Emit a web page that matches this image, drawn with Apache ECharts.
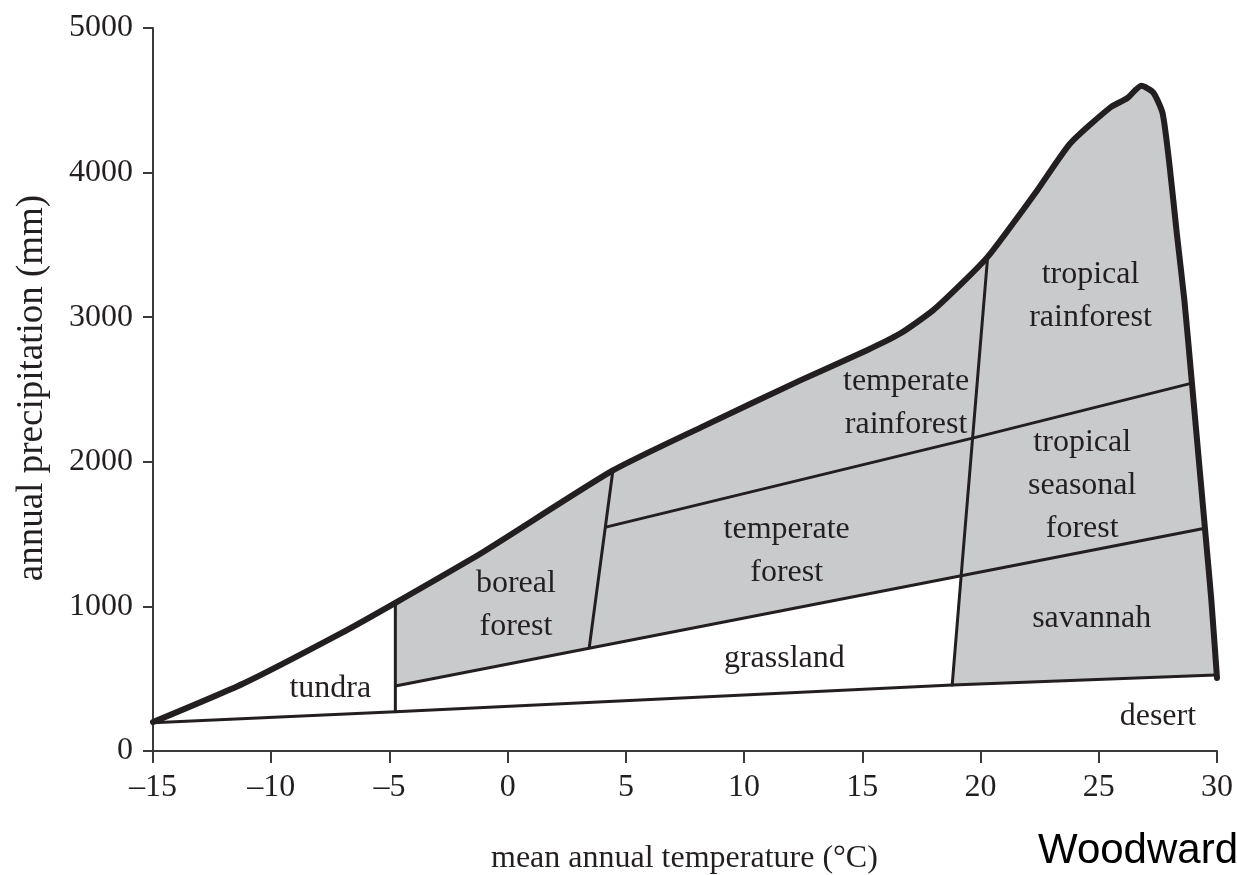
<!DOCTYPE html>
<html>
<head>
<meta charset="utf-8">
<script src="https://cdn.jsdelivr.net/npm/echarts@6/dist/echarts.min.js"></script>
<style>
html,body{margin:0;padding:0;background:#fff;}
#chart{width:1237px;height:875px;}
</style>
</head>
<body>
<div id="chart"></div>
<script>
// ---- data (temperature °C, precipitation mm) ----
const xTicks = [-15, -10, -5, 0, 5, 10, 15, 20, 25, 30];
const yTicks = [0, 1000, 2000, 3000, 4000, 5000];

// thick outer boundary
const upperCurve = [
  [-15, 200], [-11.2, 465], [-7.1, 810], [-4.75, 1025], [-1, 1380],
  [4.45, 1940], [8.2, 2240], [12.4, 2565], [15.2, 2772], [16.6, 2887],
  [18.0, 3049], [19.4, 3265], [20.3, 3417], [21.2, 3610], [22.4, 3878],
  [23.8, 4203], [25.5, 4452], [26.2, 4514], [26.8, 4600], [27.3, 4555],
  [27.7, 4410], [28.0, 4040], [28.3, 3580], [28.62, 3118], [28.94, 2544],
  [29.13, 2198], [29.49, 1541], [29.76, 1044], [30.0, 505]
];
// thin boundaries
const desertLine = [[-15, 195], [-4.75, 272], [18.8, 456], [29.94, 525]];
const tundraLine = [[-4.75, 272], [-4.75, 1025]];
const grassTopLine = [[-4.75, 450], [19.18, 1212], [29.49, 1541]];
const rainforestLine = [[4.15, 1548], [19.66, 2164], [28.94, 2544]];
const borealLine = [[3.45, 715], [4.45, 1940]];
const tropicalLine = [[20.3, 3417], [19.18, 1212], [18.8, 456]];

// region labels
const labelNames = ['tundra', 'boreal\nforest', 'temperate\nforest', 'temperate\nrainforest',
  'grassland', 'tropical\nrainforest', 'tropical\nseasonal\nforest', 'savannah', 'desert'];
const labelT = [-7.5, 0.35, 11.8, 16.85, 11.7, 24.65, 24.3, 24.7, 27.5];
const labelP = [435, 1009, 1382, 2406, 636, 3145, 1832, 919, 240];

// ---- build shaded (forest + savannah) polygon from the boundaries ----
const tundraT = tundraLine[0][0];
const grayPoly = [].concat(
  [grassTopLine[0]],
  [tundraLine[1]],
  upperCurve.filter(p => p[0] > tundraT + 0.01),
  [desertLine[desertLine.length - 1]],
  [tropicalLine[2]],
  [tropicalLine[1]]
);

const INK = '#231f20';
const AXIS = '#3a3a3a';
const SERIF = '"Liberation Serif", "Times New Roman", serif';

function thin(data, z) {
  return {
    type: 'line', data: data, symbol: 'none', silent: true, z: z || 3,
    lineStyle: { color: INK, width: 3, cap: 'round', join: 'round' }
  };
}

const chart = echarts.init(document.getElementById('chart'), null, { renderer: 'canvas' });
chart.setOption({
  animation: false,
  backgroundColor: '#fff',
  grid: { left: 153, right: 20, top: 28, bottom: 124, outerBoundsMode: 'none', containLabel: false },
  xAxis: {
    type: 'value', min: xTicks[0], max: xTicks[xTicks.length - 1], interval: 5,
    axisLine: { show: true, onZero: false, lineStyle: { color: AXIS, width: 2 } },
    axisTick: { show: true, inside: false, length: 12, lineStyle: { color: AXIS, width: 2 } },
    splitLine: { show: false },
    axisLabel: {
      margin: 21, color: INK, fontFamily: SERIF, fontSize: 32,
      formatter: v => String(v).replace('-', '\u2013')
    }
  },
  yAxis: {
    type: 'value', min: yTicks[0], max: yTicks[yTicks.length - 1], interval: 1000,
    axisLine: { show: true, onZero: false, lineStyle: { color: AXIS, width: 2 } },
    axisTick: { show: true, inside: false, length: 10, lineStyle: { color: AXIS, width: 2 } },
    splitLine: { show: false },
    axisLabel: { margin: 20, color: INK, fontFamily: SERIF, fontSize: 32, formatter: v => String(v) }
  },
  graphic: [
    {
      type: 'text', left: 491, top: 843, silent: true,
      style: { text: 'mean annual temperature (\u00b0C)', fontFamily: SERIF, fontSize: 32, fill: INK }
    },
    {
      type: 'text', x: 32, y: 388, rotation: Math.PI / 2, silent: true,
      style: { text: 'annual precipitation (mm)', fontFamily: SERIF, fontSize: 37, fill: INK,
        align: 'center', verticalAlign: 'middle' }
    },
    {
      type: 'text', left: 1038, top: 830, silent: true,
      style: { text: 'Woodward', fontFamily: '"Liberation Sans", Arial, sans-serif', fontSize: 42, fill: '#000' }
    }
  ],
  series: [
    {
      type: 'custom', silent: true, z: 1,
      data: grayPoly,
      renderItem: function (params, api) {
        if (params.dataIndex !== 0) return null;
        return {
          type: 'polygon',
          shape: { points: grayPoly.map(p => api.coord(p)) },
          style: { fill: '#c9cacc', stroke: null }
        };
      }
    },
    thin(desertLine), thin(tundraLine), thin(grassTopLine), thin(rainforestLine),
    thin(borealLine), thin(tropicalLine),
    {
      type: 'line', data: upperCurve, symbol: 'none', silent: true, z: 4,
      smooth: 0.2,
      lineStyle: { color: INK, width: 6, cap: 'round', join: 'round' }
    },
    {
      type: 'custom', silent: true, z: 5,
      data: labelT.map((t, i) => [t, labelP[i]]),
      renderItem: function (params, api) {
        const c = api.coord([api.value(0), api.value(1)]);
        return {
          type: 'text', x: c[0], y: c[1],
          style: { text: labelNames[params.dataIndex], fontFamily: SERIF, fontSize: 32, lineHeight: 43,
            fill: INK, align: 'center', verticalAlign: 'middle' }
        };
      }
    }
  ]
});
</script>
</body>
</html>
